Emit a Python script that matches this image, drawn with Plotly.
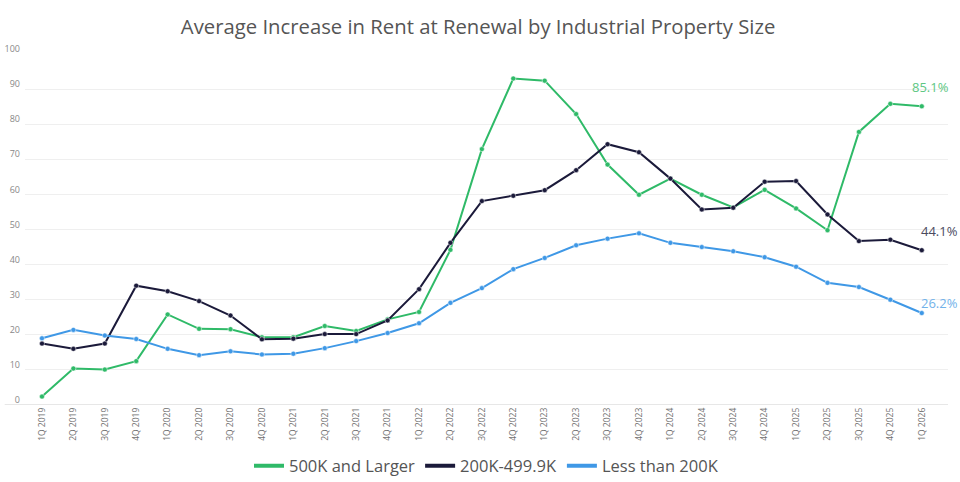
import plotly.graph_objects as go

quarters = ["1Q 2019", "2Q 2019", "3Q 2019", "4Q 2019",
            "1Q 2020", "2Q 2020", "3Q 2020", "4Q 2020",
            "1Q 2021", "2Q 2021", "3Q 2021", "4Q 2021",
            "1Q 2022", "2Q 2022", "3Q 2022", "4Q 2022",
            "1Q 2023", "2Q 2023", "3Q 2023", "4Q 2023",
            "1Q 2024", "2Q 2024", "3Q 2024", "4Q 2024",
            "1Q 2025", "2Q 2025", "3Q 2025", "4Q 2025",
            "1Q 2026"]

large = [2.4, 10.4, 10.1, 12.5, 25.8, 21.7, 21.6, 19.3, 19.3, 22.5, 21.1, 24.4,
         26.5, 44.2, 72.9, 93.0, 92.4, 82.9, 68.5, 59.9, 64.5, 59.9, 56.3, 61.3,
         56.0, 49.8, 77.8, 85.8, 85.1]
mid = [17.5, 16.0, 17.5, 34.0, 32.4, 29.6, 25.5, 18.7, 18.9, 20.2, 20.2, 24.1,
       33.0, 46.2, 58.1, 59.6, 61.2, 66.9, 74.3, 72.0, 64.5, 55.7, 56.2, 63.6,
       63.8, 54.3, 46.7, 47.1, 44.1]
small = [19.0, 21.4, 19.8, 18.8, 16.0, 14.2, 15.3, 14.4, 14.6, 16.2, 18.2, 20.5,
         23.3, 29.1, 33.3, 38.7, 41.9, 45.5, 47.4, 48.9, 46.2, 45.0, 43.8, 42.1,
         39.4, 34.8, 33.6, 30.0, 26.2]

series_names = ["500K and Larger", "200K-499.9K", "Less than 200K"]
series_values = [large, mid, small]
colors = ["#2fba68", "#1b1a3a", "#3f98e6"]
label_colors = ["#5ec783", "#4b4b5f", "#72b2ea"]
label_shifts = [(3, 19), (12, 19), (12, 10)]
y_ticks = [0, 10, 20, 30, 40, 50, 60, 70, 80, 90, 100]

xs = list(range(len(quarters)))
fig = go.Figure()

for name, vals, col in zip(series_names, series_values, colors):
    fig.add_trace(go.Scatter(
        x=xs, y=vals, mode="lines+markers", name=name, showlegend=False,
        line=dict(color=col, width=2),
        marker=dict(color=col, size=5, line=dict(color="white", width=0.5)),
        hoverinfo="skip"))

for name, col in zip(series_names, colors):
    fig.add_trace(go.Scatter(
        x=[None], y=[None], mode="lines", name=name,
        line=dict(color=col, width=4)))

for vals, lc, (dx, dy) in zip(series_values, label_colors, label_shifts):
    fig.add_annotation(
        xref="paper", x=1, xanchor="right", y=vals[-1], text=f"{vals[-1]:.1f}%",
        showarrow=False, xshift=dx, yshift=dy,
        font=dict(size=13, color=lc, family="Open Sans"))

fig.add_shape(type="line", xref="paper", yref="y", x0=-0.022, x1=1, y0=0, y1=0,
              line=dict(color="#cfcfcf", width=1.2))

fig.update_layout(
    width=960, height=482,
    margin=dict(l=25, r=12, t=54, b=77),
    paper_bgcolor="white", plot_bgcolor="white",
    title=dict(text="Average Increase in Rent at Renewal by Industrial Property Size",
               x=0.498, xanchor="center", y=0.944, yanchor="middle",
               font=dict(size=20.3, color="#555555", family="Open Sans")),
    font=dict(family="Open Sans", color="#666666"),
    showlegend=True,
    legend=dict(orientation="h", x=0.5, xanchor="center",
                yref="container", y=0.033, yanchor="middle",
                font=dict(size=16.5, color="#555555", family="Open Sans"),
                itemwidth=30, tracegroupgap=0),
    xaxis=dict(range=[-0.54, 28.835], tickmode="array", tickvals=xs, ticktext=quarters,
               tickangle=-90, tickfont=dict(size=8.5, color="#707070"),
               showgrid=False, zeroline=False, showline=False, ticks="",
               automargin=False),
    yaxis=dict(range=[0, 100], tickmode="array", tickvals=y_ticks,
               tickfont=dict(size=9, color="#888888"),
               showgrid=True, gridcolor="#efefef", gridwidth=1,
               zeroline=False, showline=False, ticks="", ticklabelshift=-5,
               ticklabelstandoff=4, automargin=False),
)

fig.write_html("out.html", config={"displayModeBar": False},
               post_script="document.body.style.margin='0';")
